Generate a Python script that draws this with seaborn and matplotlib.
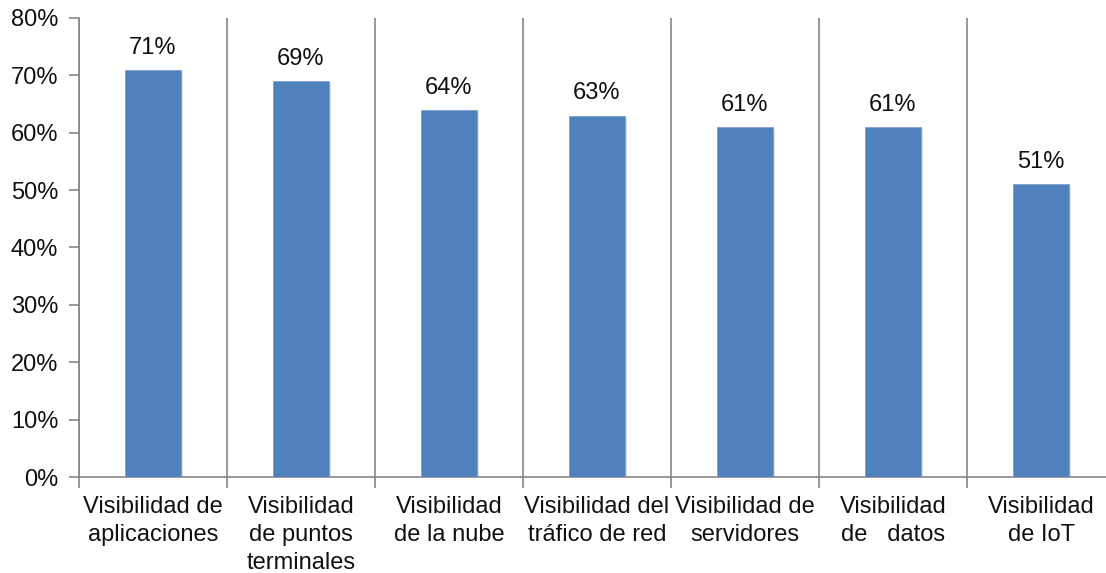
import matplotlib
matplotlib.use("Agg")
import matplotlib.pyplot as plt
import matplotlib.patheffects as pe
from matplotlib.ticker import FixedLocator, FuncFormatter
import seaborn as sns
import pandas as pd

categories = [
    "Visibilidad de\naplicaciones",
    "Visibilidad\nde puntos\nterminales",
    "Visibilidad\nde la nube",
    "Visibilidad del\ntráfico de red",
    "Visibilidad de\nservidores",
    "Visibilidad\nde   datos",
    "Visibilidad\nde IoT",
]
values = [71, 69, 64, 63, 61, 61, 51]
y_ticks = [0, 10, 20, 30, 40, 50, 60, 70, 80]

df = pd.DataFrame({"categoria": categories, "valor": values})

sns.set_theme(style="white")
plt.rcParams["font.family"] = ["Liberation Sans", "DejaVu Sans"]

W, H, DPI = 1106, 573, 100
fig = plt.figure(figsize=(W / DPI, H / DPI), dpi=DPI)
# axes run a little past the right edge of the figure
left, right, top, bottom = 79, 1115, 18, 477
ax = fig.add_axes([left / W, 1 - bottom / H, (right - left) / W, (bottom - top) / H])

axis_grey = "#868686"
text_col = "#111111"
fs = 17

sns.barplot(data=df, x="categoria", y="valor", color="#4F81BD", saturation=1,
            width=0.38, ax=ax, zorder=3)

for bar in ax.patches:
    bar.set_path_effects([
        pe.SimplePatchShadow(offset=(1.5, -1.5), shadow_rgbFace="#000000", alpha=0.12),
        pe.Normal(),
    ])
    bar.set_edgecolor("#7fa1cf")
    bar.set_linewidth(0.6)

for i, v in enumerate(values):
    ax.annotate(f"{v}%", (i, v), xytext=(0, 8), textcoords="offset points",
                ha="center", va="bottom", fontsize=fs, color=text_col)

ax.set_xlim(-0.5, len(categories) - 0.5)
ax.set_ylim(0, 80)
ax.set_yticks(y_ticks)
ax.yaxis.set_major_formatter(FuncFormatter(lambda v, _: f"{v:.0f}%"))
ax.set_xlabel("")
ax.set_ylabel("")

# category separators as vertical grid lines on minor ticks
boundaries = [i - 0.5 for i in range(len(categories) + 1)]
ax.xaxis.set_minor_locator(FixedLocator(boundaries))
ax.tick_params(axis="x", which="major", length=0, pad=14, labelsize=fs,
               labelcolor=text_col)
ax.tick_params(axis="x", which="minor", length=8, width=1.2, color=axis_grey,
               direction="out", bottom=True)
ax.tick_params(axis="y", which="major", length=7, width=1.2, color=axis_grey,
               direction="out", left=True, labelsize=fs, labelcolor=text_col, pad=8)
ax.grid(False)
ax.xaxis.grid(True, which="minor", color=axis_grey, linewidth=1.2, zorder=1)

for lbl in ax.get_xticklabels():
    lbl.set_linespacing(1.33)

for side in ("top", "right"):
    ax.spines[side].set_visible(False)
for side in ("left", "bottom"):
    ax.spines[side].set_color(axis_grey)
    ax.spines[side].set_linewidth(1.2)

fig.savefig("out.png", dpi=DPI)
